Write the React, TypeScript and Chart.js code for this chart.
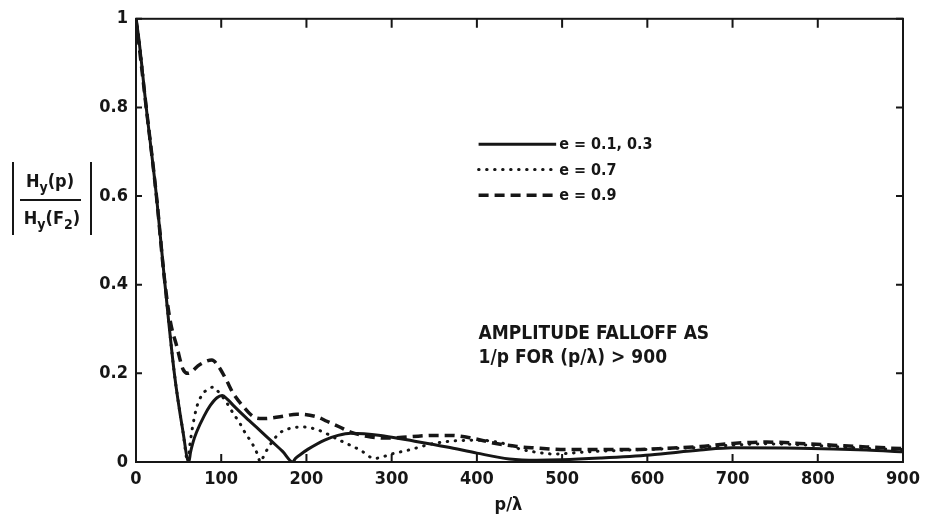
import React, { useEffect, useRef } from "react";
import { Chart, registerables } from "chart.js";

Chart.register(...registerables);

// ---------- data ----------
const X_TICKS = [0, 100, 200, 300, 400, 500, 600, 700, 800, 900];
const Y_TICKS = [0, 0.2, 0.4, 0.6, 0.8, 1];
const Y_TICK_LABELS = ["0", "0.2", "0.4", "0.6", "0.8", "1"];

const solidX = [0, 3, 12, 24, 33, 45, 55, 62, 64, 67, 71, 80, 87, 95, 101, 108, 115, 129, 145, 159, 172, 184, 187, 193, 202, 222, 237, 252, 287, 318, 365, 400, 438, 470, 500, 545, 603, 662, 700, 779, 857, 900];
const solidY = [1, 0.96, 0.8, 0.6, 0.42, 0.2, 0.07, 0, 0.022, 0.045, 0.067, 0.104, 0.127, 0.145, 0.15, 0.14, 0.126, 0.1, 0.072, 0.047, 0.024, 0, 0.008, 0.017, 0.029, 0.05, 0.06, 0.065, 0.06, 0.05, 0.034, 0.02, 0.007, 0.004, 0.005, 0.009, 0.016, 0.027, 0.032, 0.031, 0.027, 0.023];

const dottedX = [0, 3, 12, 24, 33, 45, 55, 61, 63, 66, 71, 77, 85, 91, 96, 106, 114, 122, 128, 136, 142, 146, 149, 153, 161, 169, 181, 196, 214, 239, 263, 280, 290, 300, 322, 345, 369, 404, 435, 451, 474, 490, 530, 580, 623, 662, 700, 740, 779, 818, 857, 900];
const dottedY = [1, 0.96, 0.8, 0.6, 0.42, 0.2, 0.07, 0, 0.035, 0.075, 0.122, 0.15, 0.165, 0.169, 0.16, 0.135, 0.11, 0.087, 0.066, 0.043, 0.02, 0, 0.01, 0.025, 0.049, 0.066, 0.076, 0.079, 0.072, 0.049, 0.027, 0.008, 0.012, 0.018, 0.028, 0.04, 0.047, 0.049, 0.04, 0.029, 0.021, 0.018, 0.023, 0.027, 0.03, 0.033, 0.038, 0.041, 0.039, 0.035, 0.031, 0.028];

const dashedX = [0, 12, 24, 33, 40, 48, 55, 61, 75, 89, 97, 106, 114, 126, 138, 149, 169, 189, 212, 224, 239, 251, 271, 294, 322, 349, 369, 396, 419, 447, 466, 505, 545, 584, 623, 662, 700, 740, 779, 818, 857, 900];
const dashedY = [1, 0.8, 0.6, 0.42, 0.32, 0.26, 0.21, 0.2, 0.22, 0.23, 0.215, 0.185, 0.155, 0.125, 0.102, 0.098, 0.102, 0.108, 0.102, 0.092, 0.079, 0.068, 0.058, 0.054, 0.057, 0.06, 0.06, 0.053, 0.043, 0.035, 0.032, 0.028, 0.028, 0.028, 0.031, 0.035, 0.042, 0.045, 0.042, 0.038, 0.034, 0.03];

const SERIES_LABELS = ["e = 0.1, 0.3", "e = 0.7", "e = 0.9"];
const NOTE_LINES = ["AMPLITUDE FALLOFF AS", "1/p FOR (p/\u03bb) > 900"];
const X_TITLE = "p/\u03bb";

// ---------- style ----------
const INK = "#161616";
const FONT = "'DejaVu Sans Condensed', 'DejaVu Sans', sans-serif";

const toPoints = (xs: number[], ys: number[]) => xs.map((x, i) => ({ x, y: ys[i] }));

function drawParts(ctx: CanvasRenderingContext2D, parts: { t: string; sub?: boolean }[], cx: number, baseline: number, size: number) {
  const widths = parts.map((p) => {
    ctx.font = `bold ${p.sub ? Math.round(size * 0.75) : size}px ${FONT}`;
    return ctx.measureText(p.t).width;
  });
  const total = widths.reduce((a, b) => a + b, 0);
  let x = cx - total / 2;
  parts.forEach((p, i) => {
    ctx.font = `bold ${p.sub ? Math.round(size * 0.75) : size}px ${FONT}`;
    ctx.fillText(p.t, x, baseline + (p.sub ? size * 0.3 : 0));
    x += widths[i];
  });
}

const framePlugin = {
  id: "frame",
  afterDraw(chart: any) {
    const { ctx, chartArea: a, scales } = chart;
    const xs = scales.x;
    const ys = scales.y;
    ctx.save();
    ctx.strokeStyle = INK;
    ctx.fillStyle = INK;
    ctx.lineWidth = 2;
    ctx.setLineDash([]);
    ctx.strokeRect(a.left, a.top, a.right - a.left, a.bottom - a.top);
    ctx.beginPath();
    X_TICKS.forEach((v) => {
      const px = xs.getPixelForValue(v);
      ctx.moveTo(px, a.bottom);
      ctx.lineTo(px, a.bottom - 8);
      ctx.moveTo(px, a.top);
      ctx.lineTo(px, a.top + 9);
    });
    Y_TICKS.forEach((v) => {
      const py = ys.getPixelForValue(v);
      ctx.moveTo(a.left, py);
      ctx.lineTo(a.left + 6, py);
      ctx.moveTo(a.right, py);
      ctx.lineTo(a.right - 7, py);
    });
    ctx.stroke();

    // legend inside plot
    const lx0 = xs.getPixelForValue(402);
    const lx1 = xs.getPixelForValue(493);
    const legendY = [0.717, 0.66, 0.602];
    chart.data.datasets.forEach((ds: any, i: number) => {
      const py = ys.getPixelForValue(legendY[i]);
      ctx.save();
      ctx.strokeStyle = ds.borderColor;
      ctx.lineWidth = ds.borderWidth;
      ctx.lineCap = ds.borderCapStyle || "butt";
      ctx.setLineDash(ds.borderDash || []);
      ctx.beginPath();
      ctx.moveTo(lx0, py);
      ctx.lineTo(lx1, py);
      ctx.stroke();
      ctx.restore();
      ctx.font = `bold 16px ${FONT}`;
      ctx.textBaseline = "middle";
      ctx.textAlign = "left";
      ctx.fillText(ds.label, lx1 + 3, py + 1);
    });

    // annotation
    ctx.font = `bold 19px ${FONT}`;
    ctx.textBaseline = "alphabetic";
    ctx.textAlign = "left";
    const nx = xs.getPixelForValue(402);
    ctx.fillText(NOTE_LINES[0], nx, ys.getPixelForValue(0.278));
    ctx.fillText(NOTE_LINES[1], nx, ys.getPixelForValue(0.224));

    // x title
    ctx.font = `bold 18px ${FONT}`;
    ctx.textAlign = "center";
    ctx.fillText(X_TITLE, xs.getPixelForValue(437), a.bottom + 48);

    // y title: |Hy(p) / Hy(F2)|
    ctx.textAlign = "left";
    ctx.lineWidth = 2;
    ctx.beginPath();
    ctx.moveTo(13, 162);
    ctx.lineTo(13, 235);
    ctx.moveTo(91, 162);
    ctx.lineTo(91, 235);
    ctx.moveTo(20, 200);
    ctx.lineTo(81, 200);
    ctx.stroke();
    drawParts(ctx, [{ t: "H" }, { t: "y", sub: true }, { t: "(p)" }], 50, 187, 18);
    drawParts(ctx, [{ t: "H" }, { t: "y", sub: true }, { t: "(F" }, { t: "2", sub: true }, { t: ")" }], 52, 224, 18);
    ctx.restore();
  },
};

export default function App() {
  const ref = useRef<HTMLCanvasElement | null>(null);
  useEffect(() => {
    if (!ref.current) return;
    const tickFont = { family: FONT, size: 18, weight: "bold" as const };
    const chart = new Chart(ref.current, {
      type: "line",
      data: {
        datasets: [
          {
            label: SERIES_LABELS[0],
            data: toPoints(solidX, solidY),
            borderColor: INK,
            borderWidth: 3,
            pointRadius: 0,
            cubicInterpolationMode: "monotone",
            fill: false,
          },
          {
            label: SERIES_LABELS[1],
            data: toPoints(dottedX, dottedY),
            borderColor: INK,
            borderWidth: 3,
            borderDash: [0.5, 7.5],
            borderCapStyle: "round",
            pointRadius: 0,
            cubicInterpolationMode: "monotone",
            fill: false,
          },
          {
            label: SERIES_LABELS[2],
            data: toPoints(dashedX, dashedY),
            borderColor: INK,
            borderWidth: 3.5,
            borderDash: [10, 6],
            pointRadius: 0,
            cubicInterpolationMode: "monotone",
            fill: false,
          },
        ],
      },
      options: {
        animation: false,
        responsive: false,
        layout: { padding: { left: 0, right: 25, top: 16, bottom: 0 } },
        plugins: { legend: { display: false }, tooltip: { enabled: false } },
        scales: {
          x: {
            type: "linear",
            min: 0,
            max: 900,
            afterBuildTicks: (s: any) => {
              s.ticks = X_TICKS.map((v) => ({ value: v }));
            },
            afterFit: (s: any) => {
              s.height = 56;
            },
            grid: { display: false, drawTicks: false },
            border: { display: false },
            ticks: { color: INK, font: tickFont, padding: 7, maxRotation: 0, autoSkip: false, callback: (v: any) => String(v) },
          },
          y: {
            type: "linear",
            min: 0,
            max: 1,
            afterBuildTicks: (s: any) => {
              s.ticks = Y_TICKS.map((v) => ({ value: v }));
            },
            afterFit: (s: any) => {
              s.width = 136;
            },
            grid: { display: false, drawTicks: false },
            border: { display: false },
            ticks: {
              color: INK,
              font: tickFont,
              padding: 8,
              callback: (v: any, i: number) => Y_TICK_LABELS[i] ?? String(v),
            },
          },
        },
      },
      plugins: [framePlugin],
    });
    return () => chart.destroy();
  }, []);
  return (
    <div style={{ position: "absolute", left: 0, top: 0, width: 928, height: 518, background: "#fff" }}>
      <canvas ref={ref} width={928} height={518} style={{ display: "block" }} />
    </div>
  );
}
